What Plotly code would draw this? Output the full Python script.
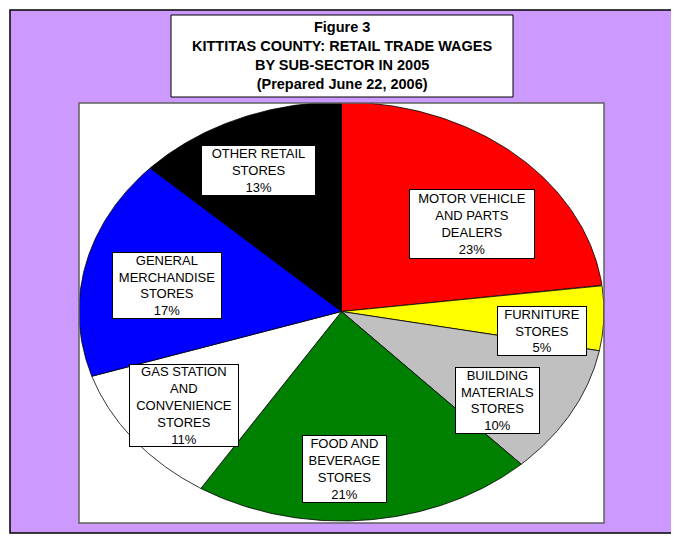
import numpy as np
import plotly.graph_objects as go

# ---- data ----
categories = [
    "MOTOR VEHICLE AND PARTS DEALERS",
    "FURNITURE STORES",
    "BUILDING MATERIALS STORES",
    "FOOD AND BEVERAGE STORES",
    "GAS STATION AND CONVENIENCE STORES",
    "GENERAL MERCHANDISE STORES",
    "OTHER RETAIL STORES",
]
label_lines = [
    "MOTOR VEHICLE<br>AND PARTS<br>DEALERS",
    "FURNITURE<br>STORES",
    "BUILDING<br>MATERIALS<br>STORES",
    "FOOD AND<br>BEVERAGE<br>STORES",
    "GAS STATION<br>AND<br>CONVENIENCE<br>STORES",
    "GENERAL<br>MERCHANDISE<br>STORES",
    "OTHER RETAIL<br>STORES",
]
percents = [23, 5, 10, 21, 11, 17, 13]

# ---- styles / layout positions ----
colors = ["#FF0000", "#FFFF00", "#C0C0C0", "#008000", "#FFFFFF", "#0000FF", "#000000"]
label_pos = [(0.497, 0.418), (0.764, -0.093), (0.594, -0.426), (0.013, -0.752),
             (-0.600, -0.449), (-0.665, 0.122), (-0.318, 0.675)]
label_box = [(126, 70), (90, 50), (85, 67), (85, 68), (110, 83), (110, 67), (115, 51)]

OFF = 8  # page body margin
W, H = 679 - OFF, 536 - OFF
L, R, T, B = 79 - OFF, 604 - OFF, 103 - OFF, 523 - OFF


def px(xp):
    return (xp - OFF - L) / (R - L)


def py(yp):
    return (B - (yp - OFF)) / (B - T)


fig = go.Figure()
total = float(sum(percents))
cum = np.concatenate([[0.0], np.cumsum(percents)]) / total
for i, cat in enumerate(categories):
    t = np.linspace(cum[i], cum[i + 1], 120) * 2 * np.pi
    xs = np.concatenate([[0.0], np.sin(t), [0.0]])
    ys = np.concatenate([[0.0], np.cos(t), [0.0]])
    fig.add_trace(go.Scatter(
        x=xs, y=ys, mode="lines", fill="toself", fillcolor=colors[i],
        line=dict(color="#000000", width=0.8), name=cat,
        hoverinfo="name", showlegend=False,
    ))

annotations = []
for i, cat in enumerate(categories):
    bw, bh = label_box[i]
    annotations.append(dict(
        x=label_pos[i][0], y=label_pos[i][1], xref="x", yref="y",
        text=f"{label_lines[i]}<br>{percents[i]}%", showarrow=False,
        font=dict(family="Arial, Liberation Sans, sans-serif", size=13, color="#000000"),
        bgcolor="#FFFFFF", bordercolor="#000000", borderwidth=1, borderpad=0,
        width=bw - 2, height=bh - 2, align="center", valign="middle",
    ))

annotations.append(dict(
    x=px(342), y=py(56), xref="paper", yref="paper", showarrow=False,
    text="<b>Figure 3<br>KITTITAS COUNTY: RETAIL TRADE WAGES<br>BY SUB-SECTOR IN 2005<br>(Prepared June 22, 2006)</b>",
    font=dict(family="Arial, Liberation Sans, sans-serif", size=14.5, color="#000000"),
    align="center", xanchor="center", yanchor="middle",
))

shapes = [
    dict(type="rect", xref="paper", yref="paper", layer="below",
         x0=px(10), x1=px(678), y0=py(533), y1=py(10),
         fillcolor="#CC99FF", line=dict(color="#000000", width=1.5)),
    dict(type="rect", xref="paper", yref="paper", layer="below",
         x0=0, x1=1, y0=0, y1=1, fillcolor="#FFFFFF", line=dict(width=0)),
    dict(type="rect", xref="paper", yref="paper", layer="above",
         x0=0, x1=1, y0=0, y1=1, line=dict(color="#606060", width=1.5)),
    dict(type="rect", xref="paper", yref="paper", layer="above",
         x0=px(171), x1=px(513), y0=py(97), y1=py(15),
         fillcolor="#FFFFFF", line=dict(color="#000000", width=1)),
]

fig.update_layout(
    width=W, height=H,
    margin=dict(l=L, r=W - R, t=T, b=H - B),
    paper_bgcolor="#FFFFFF", plot_bgcolor="rgba(0,0,0,0)",
    xaxis=dict(range=[-1.0, 1.0], visible=False, fixedrange=True),
    yaxis=dict(range=[-1.0095, 0.9952], visible=False, fixedrange=True),
    shapes=shapes, annotations=annotations, showlegend=False,
)

fig.write_html("out.html")
